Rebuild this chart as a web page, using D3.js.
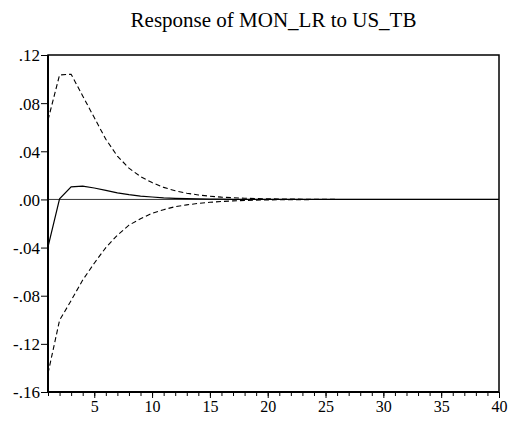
<!DOCTYPE html>
<html>
<head>
<meta charset="utf-8">
<script src="https://cdn.jsdelivr.net/npm/d3@7"></script>
<style>
  body { margin: 0; background: #fff; }
  svg text { font-family: "Times New Roman", "Liberation Serif", "DejaVu Serif", serif; fill: #000; }
</style>
</head>
<body>
<script>
const WIDTH = 508;
const HEIGHT = 423;
const MARGIN = {top: 55, right: 9, bottom: 31, left: 48};
const SERIF = '"Times New Roman", "Liberation Serif", "DejaVu Serif", serif';

const TITLE = 'Response of MON_LR to US_TB';
const periods = d3.range(1, 41);
const response = [-0.0395, 0.0005, 0.0105, 0.011, 0.0095, 0.0075, 0.0055, 0.004, 0.0028, 0.002,
  0.0013, 0.0009, 0.0006, 0.0004, 0.0003, 0.0002, 0.0001, 0.0001, 0, 0,
  0, 0, 0, 0, 0, 0, 0, 0, 0, 0, 0, 0, 0, 0, 0, 0, 0, 0, 0, 0];
const upperBand = [0.066, 0.1034, 0.104, 0.086, 0.068, 0.05, 0.036, 0.026, 0.019, 0.014,
  0.010, 0.0072, 0.0052, 0.0037, 0.0027, 0.0019, 0.0014, 0.001, 0.0007, 0.0005,
  0.0004, 0.0003, 0.0002, 0.00015, 0.0001, 0, 0, 0, 0, 0, 0, 0, 0, 0, 0, 0, 0, 0, 0, 0];
const lowerBand = [-0.1445, -0.1004, -0.084, -0.067, -0.053, -0.040, -0.0297, -0.0214, -0.016, -0.0115,
  -0.0085, -0.006, -0.0045, -0.0033, -0.0024, -0.0017, -0.0012, -0.0009, -0.0006, -0.0004,
  -0.0003, -0.0002, -0.00015, -0.0001, 0, 0, 0, 0, 0, 0, 0, 0, 0, 0, 0, 0, 0, 0, 0, 0];
const yTicks = [0.12, 0.08, 0.04, 0.00, -0.04, -0.08, -0.12, -0.16];
const xMajorTicks = [5, 10, 15, 20, 25, 30, 35, 40];

const innerW = WIDTH - MARGIN.left - MARGIN.right;
const innerH = HEIGHT - MARGIN.top - MARGIN.bottom;

const svg = d3.select('body').append('svg')
  .attr('width', WIDTH)
  .attr('height', HEIGHT);

const x = d3.scaleLinear().domain([1, 40]).range([0, innerW]);
const y = d3.scaleLinear().domain([-0.16, 0.12]).range([innerH, 0]);

const g = svg.append('g')
  .attr('transform', 'translate(' + MARGIN.left + ',' + MARGIN.top + ')');

// title
svg.append('text')
  .attr('x', MARGIN.left + innerW / 2)
  .attr('y', 27)
  .attr('text-anchor', 'middle')
  .attr('font-family', SERIF)
  .attr('font-size', 21)
  .text(TITLE);

// labels like EViews: .12, -.04
const fmt = function(v) {
  let s = d3.format('.2f')(Math.abs(v)).replace(/^0/, '');
  return (v < 0 ? '-' : '') + s;
};

// y axis
const yAxis = d3.axisLeft(y).tickValues(yTicks).tickFormat(fmt).tickSize(7).tickPadding(1);
const yg = g.append('g').call(yAxis)
  .attr('font-family', SERIF).attr('font-size', 17);
yg.select('.domain').remove();
yg.selectAll('text').attr('dy', '0.35em');

// x axis: minor ticks every period, major with labels
const xMinor = d3.axisBottom(x).tickValues(periods).tickFormat('').tickSize(4);
const xm = g.append('g').attr('transform', 'translate(0,' + innerH + ')').call(xMinor);
xm.select('.domain').remove();

const xAxis = d3.axisBottom(x).tickValues(xMajorTicks).tickFormat(d3.format('d')).tickSize(6).tickPadding(3);
const xg = g.append('g').attr('transform', 'translate(0,' + innerH + ')').call(xAxis)
  .attr('font-family', SERIF).attr('font-size', 16);
xg.select('.domain').remove();

// zero line
g.append('line')
  .attr('x1', 0).attr('x2', innerW)
  .attr('y1', y(0)).attr('y2', y(0))
  .attr('stroke', '#000').attr('stroke-width', 0.8);

const line = d3.line()
  .x(function(d, i) { return x(periods[i]); })
  .y(function(d) { return y(d); });

g.append('path').attr('d', line(upperBand))
  .attr('fill', 'none').attr('stroke', '#000').attr('stroke-width', 1.1)
  .attr('stroke-dasharray', '5,3');
g.append('path').attr('d', line(lowerBand))
  .attr('fill', 'none').attr('stroke', '#000').attr('stroke-width', 1.1)
  .attr('stroke-dasharray', '5,3');
g.append('path').attr('d', line(response))
  .attr('fill', 'none').attr('stroke', '#000').attr('stroke-width', 1.2);

// frame
g.append('rect')
  .attr('width', innerW).attr('height', innerH)
  .attr('fill', 'none').attr('stroke', '#000').attr('stroke-width', 1.5);
g.append('line').attr('x1', 0).attr('x2', 0).attr('y1', 0).attr('y2', innerH)
  .attr('stroke', '#000').attr('stroke-width', 2);
g.append('line').attr('x1', 0).attr('x2', innerW).attr('y1', innerH).attr('y2', innerH)
  .attr('stroke', '#000').attr('stroke-width', 2);
</script>
</body>
</html>
